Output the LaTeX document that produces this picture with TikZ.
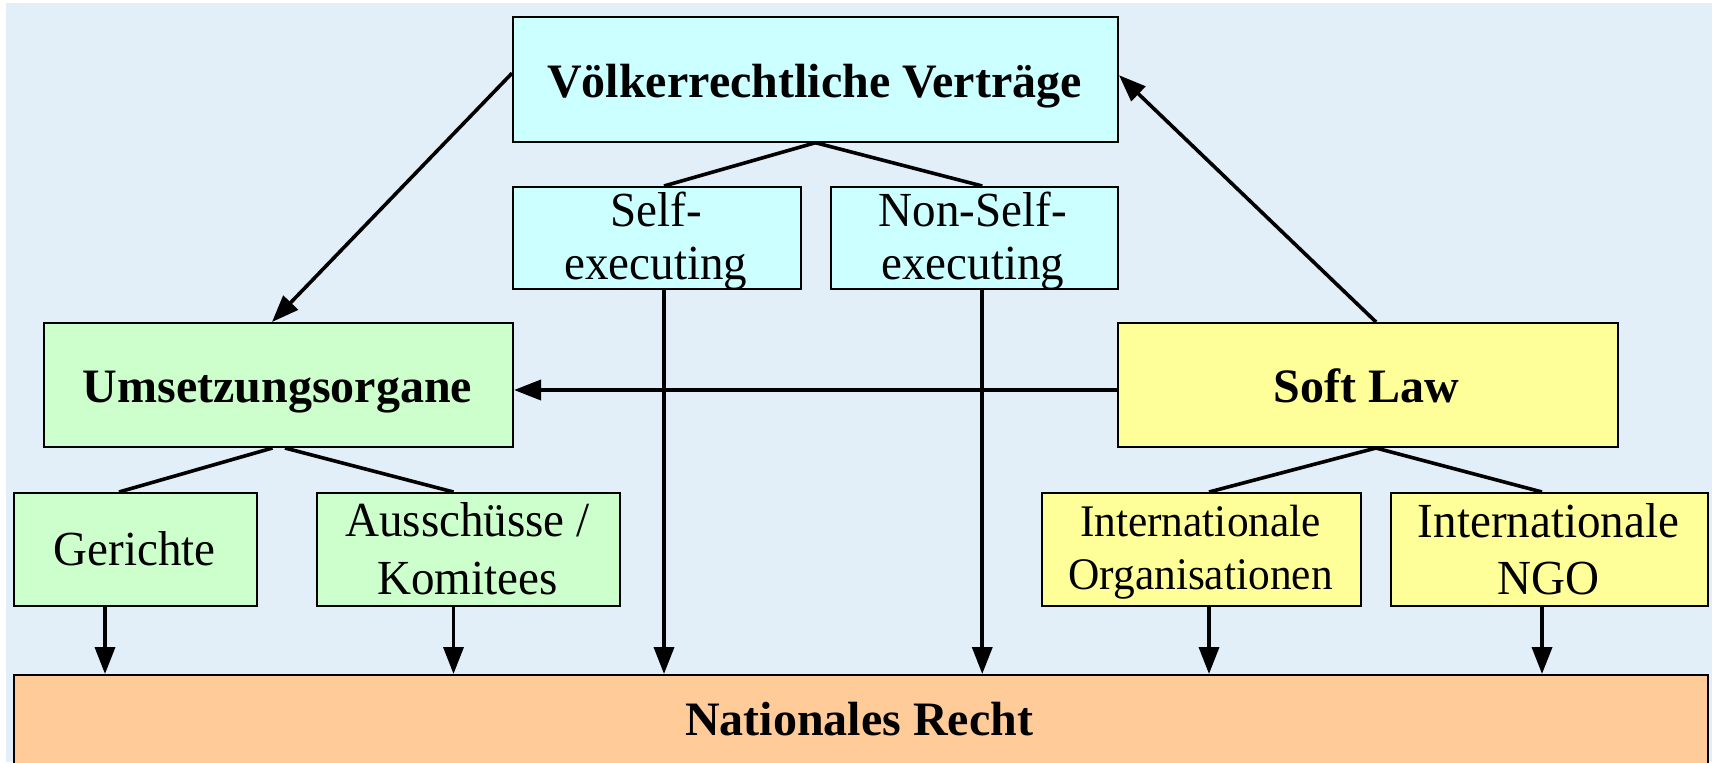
\documentclass[tikz,border=0pt]{standalone}
\usepackage{fontspec}
\setmainfont{Liberation Serif}
\newfontfamily\regfam{Liberation Serif}[FakeStretch=0.96]
\usetikzlibrary{arrows.meta}
\definecolor{bgblue}{HTML}{E2EEF8}
\definecolor{cyanbox}{HTML}{CCFFFF}
\definecolor{greenbox}{HTML}{CCFFCC}
\definecolor{yellowbox}{HTML}{FFFF99}
\definecolor{orangebox}{HTML}{FFCC99}
\begin{document}
\begin{tikzpicture}[x=0.5pt,y=-0.5pt,
  box/.style={draw=black, line width=1pt, inner sep=0pt, anchor=north west},
  cbox/.style={box, fill=cyanbox},
  gbox/.style={box, fill=greenbox},
  ybox/.style={box, fill=yellowbox},
  obox/.style={box, fill=orangebox},
  btxt/.style={anchor=base, inner sep=0pt, font=\fontsize{24}{27}\selectfont\bfseries},
  rtxt/.style={anchor=base, inner sep=0pt, font=\regfam\fontsize{24.5}{27}\selectfont},
  stxt/.style={anchor=base, inner sep=0pt, font=\regfam\fontsize{22.6}{26}\selectfont},
  ln/.style={line width=1.8pt, black},
  arr/.style={ln, -{Triangle[length=13.5pt,width=10pt]}}
]
\useasboundingbox (0,0) rectangle (1712,762);
\clip (0,0) rectangle (1712,762);
\fill[bgblue] (5.5,2.7) rectangle (1712,762);

% boxes
\node[cbox, minimum width=302.5pt, minimum height=62.5pt] (V) at (512,15.7) {};
\node[cbox, minimum width=144pt, minimum height=51pt] (S) at (512,186) {};
\node[cbox, minimum width=143.75pt, minimum height=51pt] (N) at (829.5,186) {};
\node[gbox, minimum width=234.5pt, minimum height=62pt] (U) at (43,322) {};
\node[ybox, minimum width=250pt, minimum height=62pt] (L) at (1116.5,322) {};
\node[gbox, minimum width=121.5pt, minimum height=56.5pt] (G) at (13,492) {};
\node[gbox, minimum width=151.5pt, minimum height=56.5pt] (A) at (316,492) {};
\node[ybox, minimum width=159.5pt, minimum height=56.5pt] (IO) at (1041,492) {};
\node[ybox, minimum width=158.5pt, minimum height=56.5pt] (NGO) at (1390,492) {};
\node[obox, minimum width=847pt, minimum height=48pt] (R) at (13,674) {};

% texts
\node[btxt] (Vt) at (814.5,97) {Völkerrechtliche Verträge};
\node[rtxt] (St1) at (656,226) {Self-};
\node[rtxt] (St2) at (656,279) {executing};
\node[rtxt] (Nt1) at (973,226) {Non-Self-};
\node[rtxt] (Nt2) at (973,279) {executing};
\node[btxt] (Ut) at (277.5,402) {Umsetzungsorgane};
\node[btxt] (Lt) at (1366.5,402) {Soft Law};
\node[rtxt] (Gt) at (134.5,565) {Gerichte};
\node[rtxt] (At1) at (467.5,536) {Ausschüsse /};
\node[rtxt] (At2) at (467.5,594) {Komitees};
\node[stxt] (IOt1) at (1200.5,536) {Internationale};
\node[stxt] (IOt2) at (1200.5,589) {Organisationen};
\node[rtxt] (NGOt1) at (1548.5,537) {Internationale};
\node[rtxt] (NGOt2) at (1548.5,594) {NGO};
\node[btxt] (Rt) at (859,735) {Nationales Recht};

% connectors
\draw[arr] ([yshift=3pt]V.west) -- ([xshift=-3.25pt]U.north);
\draw[arr] ([xshift=4.25pt]L.north) -- ([yshift=2pt]V.east);
\draw[arr] ([yshift=-2.5pt]L.west) -- ([yshift=-2.5pt]U.east);

\draw[ln] (V.south) -- ([xshift=3.5pt]S.north);
\draw[ln] (V.south) -- ([xshift=4pt]N.north);
\draw[arr] ([xshift=3.5pt]S.south) coordinate (s1) -- (s1 |- R.north);
\draw[arr] ([xshift=4pt]N.south) coordinate (n1) -- (n1 |- R.north);

\draw[ln] ([xshift=-3pt]U.south) -- ([xshift=-8.25pt]G.north);
\draw[ln] ([xshift=3.25pt]U.south) -- ([xshift=-7.5pt]A.north);
\draw[arr] ([xshift=-15.25pt]G.south) coordinate (g1) -- (g1 |- R.north);
\draw[arr] ([xshift=-7.5pt]A.south) coordinate (a1) -- (a1 |- R.north);

\draw[ln] ([xshift=4.25pt]L.south) -- ([xshift=3.75pt]IO.north);
\draw[ln] ([xshift=4.25pt]L.south) -- ([xshift=-3.75pt]NGO.north);
\draw[arr] ([xshift=3.75pt]IO.south) coordinate (i1) -- (i1 |- R.north);
\draw[arr] ([xshift=-3.75pt]NGO.south) coordinate (o1) -- (o1 |- R.north);
\end{tikzpicture}
\end{document}
